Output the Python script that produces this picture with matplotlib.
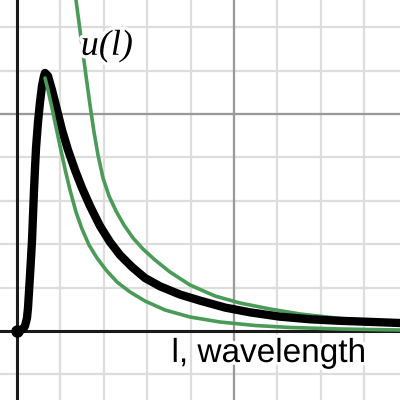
"""
Planck curve with two green approximations, drawn like a desmos graph
"""

import matplotlib
matplotlib.use("Agg")
import matplotlib.pyplot as plt
import matplotlib.patheffects as pe

# black curve u(l) in grid units
planck_x = [0.0, 0.069, 0.138, 0.184, 0.230, 0.253, 0.276, 0.300, 0.323, 0.346,
            0.369, 0.392, 0.415, 0.438, 0.484, 0.530, 0.576, 0.622, 0.645, 0.714,
            0.806, 0.922, 1.037, 1.175, 1.336, 1.498, 1.682, 1.912, 2.143, 2.373,
            2.650, 2.949, 3.295, 3.756, 4.217, 4.793, 5.369, 6.060, 6.751, 7.442,
            8.134, 8.825]
planck_y = [0.0, 0.012, 0.046, 0.115, 0.300, 0.530, 0.899, 1.290, 1.682, 2.097,
            2.673, 3.249, 3.756, 4.217, 4.816, 5.276, 5.645, 5.876, 5.945, 5.876,
            5.553, 5.092, 4.631, 4.171, 3.710, 3.295, 2.880, 2.419, 2.051, 1.751,
            1.475, 1.221, 1.030, 0.840, 0.700, 0.540, 0.430, 0.330, 0.270, 0.235,
            0.210, 0.184]

# upper green curve
upper_x = [1.336, 1.359, 1.475, 1.590, 1.682, 1.774, 1.866, 1.982, 2.120, 2.281,
           2.465, 2.673, 2.903, 3.180, 3.525, 3.986, 4.562, 5.138, 5.829, 6.521,
           7.442, 8.134, 8.825]
upper_y = [7.811, 7.627, 6.751, 5.876, 5.207, 4.585, 4.055, 3.525, 3.111, 2.765,
           2.442, 2.143, 1.889, 1.636, 1.359, 1.060, 0.806, 0.645, 0.507, 0.392,
           0.288, 0.242, 0.207]

# lower green curve, from the peak on
lower_x = [0.645, 0.714, 0.806, 0.899, 0.991, 1.106, 1.221, 1.359, 1.498, 1.659,
           1.843, 2.051, 2.304, 2.604, 2.949, 3.410, 3.986, 4.677, 5.484, 6.290,
           7.442, 8.825]
lower_y = [5.829, 5.553, 5.138, 4.700, 4.263, 3.733, 3.249, 2.742, 2.350, 1.982,
           1.682, 1.406, 1.129, 0.899, 0.691, 0.484, 0.323, 0.207, 0.127, 0.081,
           0.046, 0.023]

GREEN = "#4a9a58"

fig = plt.figure(figsize=(4, 4), dpi=100)
ax = fig.add_axes([0, 0, 1, 1])

ax.set_xlim(-0.392, 8.825)
ax.set_ylim(-1.590, 7.627)

# grid
for gx in range(-1, 10):
    ax.axvline(gx, color="#dddddd", lw=1.6, zorder=0)
for gy in range(-2, 9):
    ax.axhline(gy, color="#dddddd", lw=1.6, zorder=0)
ax.axvline(5, color="#9a9a9a", lw=1.6, zorder=0.5)
ax.axhline(5, color="#9a9a9a", lw=1.6, zorder=0.5)
ax.axvline(0, color="#1a1a1a", lw=2.2, zorder=1)
ax.axhline(0, color="#1a1a1a", lw=2.2, zorder=1)

ax.plot(upper_x, upper_y, color=GREEN, lw=2.6, zorder=2,
        solid_capstyle="round", solid_joinstyle="round")
ax.plot(planck_x, planck_y, color="black", lw=6, zorder=3,
        solid_capstyle="round", solid_joinstyle="round")
ax.plot([planck_x[0]], [planck_y[0]], "o", color="black", ms=8, zorder=3)
ax.plot(lower_x, lower_y, color=GREEN, lw=2.6, zorder=4,
        solid_capstyle="round", solid_joinstyle="round")

halo = [pe.withStroke(linewidth=5, foreground="white")]
ax.text(2.07, 6.56, "u(l)", family="Liberation Serif", style="italic",
        fontsize=26, ha="center", va="center", zorder=5, path_effects=halo)
ax.text(3.56, -0.714, "l, wavelength", family="Liberation Sans",
        fontsize=24, ha="left", va="baseline", zorder=5, path_effects=halo)

ax.set_xticks([])
ax.set_yticks([])
for s in ax.spines.values():
    s.set_visible(False)

fig.savefig("out.png", dpi=100)
